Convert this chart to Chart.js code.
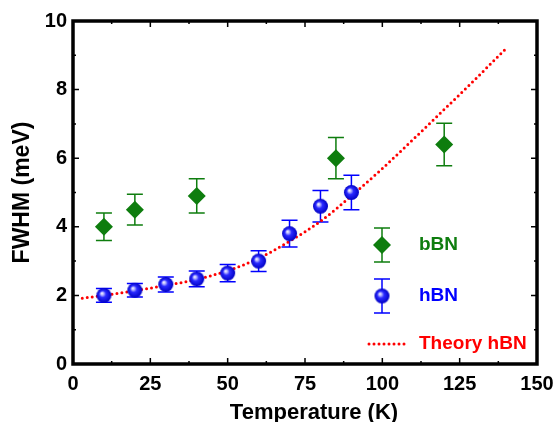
<!DOCTYPE html>
<html>
<head>
<meta charset="utf-8">
<script src="https://cdn.jsdelivr.net/npm/chart.js"></script>
<style>
  html, body { margin: 0; padding: 0; background: #fff; }
  #wrap { width: 556px; height: 422px; }
</style>
</head>
<body>
<div id="wrap"><canvas id="chart" width="556" height="422"></canvas></div>
<script>
// data
const bbnTemp = [10, 20, 40, 85, 120];
const bbnFwhm = [4.0, 4.5, 4.9, 6.0, 6.4];
const bbnErr = [0.4, 0.45, 0.5, 0.6, 0.62];

const hbnTemp = [10, 20, 30, 40, 50, 60, 70, 80, 90];
const hbnFwhm = [2.0, 2.15, 2.32, 2.48, 2.65, 3.0, 3.8, 4.6, 5.0];
const hbnErr = [0.2, 0.2, 0.22, 0.23, 0.25, 0.3, 0.39, 0.46, 0.5];

const theoryTemp = [3, 10, 20, 30, 40, 50, 60, 70, 80, 90, 100, 110, 120, 130, 140];
const theoryFwhm = [1.92, 2.0, 2.14, 2.29, 2.47, 2.72, 3.08, 3.58, 4.16, 4.9, 5.7, 6.55, 7.42, 8.3, 9.2];

const xTicks = [0, 25, 50, 75, 100, 125, 150];
const yTicks = [0, 2, 4, 6, 8, 10];

const GREEN = '#0e7d0e';
const BLUE = '#0000ff';
const RED = '#ff0000';
const FONT = "'Liberation Sans', Arial, sans-serif";

// shaded blue ball used as marker
function makeBall(r) {
    const c = document.createElement('canvas');
    const s = Math.ceil(2 * r + 2);
    c.width = s; c.height = s;
    const g = c.getContext('2d');
    const cx = s / 2, cy = s / 2;
    const grad = g.createRadialGradient(cx - r * 0.3, cy - r * 0.3, 0, cx, cy, r);
    grad.addColorStop(0, '#ffffff');
    grad.addColorStop(0.2, '#b8b8ff');
    grad.addColorStop(0.45, '#2a2aff');
    grad.addColorStop(1, '#0000c4');
    g.fillStyle = grad;
    g.beginPath();
    g.arc(cx, cy, r, 0, Math.PI * 2);
    g.fill();
    return c;
}
const ball = makeBall(7.5);

function drawDiamond(ctx, x, y, r, color) {
    ctx.fillStyle = color;
    ctx.beginPath();
    ctx.moveTo(x - r, y);
    ctx.lineTo(x, y - r);
    ctx.lineTo(x + r, y);
    ctx.lineTo(x, y + r);
    ctx.closePath();
    ctx.fill();
}

function drawErrBar(ctx, x, yTop, yBot, color) {
    ctx.strokeStyle = color;
    ctx.lineWidth = 1.5;
    ctx.beginPath();
    ctx.moveTo(x, yTop); ctx.lineTo(x, yBot);
    ctx.moveTo(x - 8, yTop); ctx.lineTo(x + 8, yTop);
    ctx.moveTo(x - 8, yBot); ctx.lineTo(x + 8, yBot);
    ctx.stroke();
}

const errorBars = {
    id: 'errorBars',
    beforeDatasetsDraw(chart) {
        const ctx = chart.ctx;
        const xs = chart.scales.x, ys = chart.scales.y;
        ctx.save();
        chart.data.datasets.forEach(ds => {
            if (!ds.errors) return;
            ds.data.forEach((p, i) => {
                const e = ds.errors[i];
                drawErrBar(ctx, xs.getPixelForValue(p.x),
                    ys.getPixelForValue(p.y + e), ys.getPixelForValue(p.y - e), ds.borderColor);
            });
        });
        ctx.restore();
    }
};

const frame = {
    id: 'frame',
    afterDraw(chart) {
        const ctx = chart.ctx;
        const a = chart.chartArea;
        const xs = chart.scales.x, ys = chart.scales.y;
        ctx.save();
        ctx.strokeStyle = '#000';
        ctx.lineWidth = 1.5;
        ctx.beginPath();
        // ticks, inward on all four sides
        for (let i = 0; i < xTicks.length; i++) {
            const v = xTicks[i];
            const px = xs.getPixelForValue(v);
            ctx.moveTo(px, a.bottom); ctx.lineTo(px, a.bottom - 6);
            ctx.moveTo(px, a.top); ctx.lineTo(px, a.top + 6);
            if (i < xTicks.length - 1) {
                const mx = xs.getPixelForValue((v + xTicks[i + 1]) / 2);
                ctx.moveTo(mx, a.bottom); ctx.lineTo(mx, a.bottom - 3);
                ctx.moveTo(mx, a.top); ctx.lineTo(mx, a.top + 3);
            }
        }
        for (let i = 0; i < yTicks.length; i++) {
            const v = yTicks[i];
            const py = ys.getPixelForValue(v);
            ctx.moveTo(a.left, py); ctx.lineTo(a.left + 6, py);
            ctx.moveTo(a.right, py); ctx.lineTo(a.right - 6, py);
            if (i < yTicks.length - 1) {
                const my = ys.getPixelForValue((v + yTicks[i + 1]) / 2);
                ctx.moveTo(a.left, my); ctx.lineTo(a.left + 3, my);
                ctx.moveTo(a.right, my); ctx.lineTo(a.right - 3, my);
            }
        }
        ctx.stroke();
        ctx.lineWidth = 3.5;
        ctx.strokeRect(a.left, a.top, a.right - a.left, a.bottom - a.top);

        // x axis title, sits a little right of centre in the original
        ctx.fillStyle = '#000';
        ctx.font = 'bold 22px ' + FONT;
        ctx.textAlign = 'center';
        ctx.textBaseline = 'alphabetic';
        ctx.fillText('Temperature (K)', (a.left + a.right) / 2 + 9, 419);
        ctx.restore();
    }
};

// legend inside the plot, lower right
const insideLegend = {
    id: 'insideLegend',
    afterDraw(chart) {
        const ctx = chart.ctx;
        const a = chart.chartArea;
        const sx = a.right - 155, tx = a.right - 118;
        ctx.save();
        ctx.font = 'bold 19px ' + FONT;
        ctx.textBaseline = 'middle';

        let y = a.bottom - 119;
        drawErrBar(ctx, sx, y - 17, y + 17, GREEN);
        drawDiamond(ctx, sx, y, 9, GREEN);
        ctx.fillStyle = GREEN;
        ctx.fillText('bBN', tx, y);

        y = a.bottom - 68;
        drawErrBar(ctx, sx, y - 17, y + 17, BLUE);
        ctx.drawImage(ball, sx - ball.width / 2, y - ball.height / 2);
        ctx.fillStyle = BLUE;
        ctx.fillText('hBN', tx, y);

        y = a.bottom - 20;
        ctx.strokeStyle = RED;
        ctx.lineWidth = 3;
        ctx.lineCap = 'round';
        ctx.setLineDash([0, 5]);
        ctx.beginPath();
        ctx.moveTo(sx - 13, y); ctx.lineTo(sx + 24, y);
        ctx.stroke();
        ctx.setLineDash([]);
        ctx.fillStyle = RED;
        ctx.fillText('Theory hBN', tx, y);
        ctx.restore();
    }
};

const toPoints = (xs, ys) => xs.map((x, i) => ({ x: x, y: ys[i] }));

new Chart(document.getElementById('chart'), {
    type: 'scatter',
    data: {
        datasets: [
            {
                label: 'Theory hBN',
                type: 'line',
                data: toPoints(theoryTemp, theoryFwhm),
                borderColor: RED,
                borderWidth: 3,
                borderDash: [0, 5],
                borderCapStyle: 'round',
                cubicInterpolationMode: 'monotone',
                pointRadius: 0,
                fill: false,
                order: 3
            },
            {
                label: 'bBN',
                data: toPoints(bbnTemp, bbnFwhm),
                errors: bbnErr,
                borderColor: GREEN,
                backgroundColor: GREEN,
                pointStyle: 'rectRot',
                pointRadius: 9,
                pointBorderWidth: 0,
                order: 2
            },
            {
                label: 'hBN',
                data: toPoints(hbnTemp, hbnFwhm),
                errors: hbnErr,
                borderColor: BLUE,
                backgroundColor: BLUE,
                pointStyle: ball,
                pointRadius: 7.5,
                order: 1
            }
        ]
    },
    options: {
        responsive: false,
        animation: false,
        clip: false,
        layout: { padding: { top: 21, right: 19, left: 0, bottom: 0 } },
        plugins: {
            legend: { display: false },
            tooltip: { enabled: false }
        },
        scales: {
            x: {
                type: 'linear',
                min: 0, max: 150,
                afterBuildTicks: s => { s.ticks = xTicks.map(v => ({ value: v })); },
                afterFit: s => { s.height = 58; s.paddingLeft = 0; s.paddingRight = 0; },
                grid: { display: false, drawTicks: false },
                border: { display: false },
                ticks: {
                    color: '#000',
                    padding: 8,
                    maxRotation: 0,
                    font: { family: FONT, size: 20, weight: 'bold' }
                },
                title: { display: false }
            },
            y: {
                type: 'linear',
                min: 0, max: 10,
                afterBuildTicks: s => { s.ticks = yTicks.map(v => ({ value: v })); },
                afterFit: s => { s.width = 73; s.paddingTop = 0; s.paddingBottom = 0; },
                grid: { display: false, drawTicks: false },
                border: { display: false },
                ticks: {
                    color: '#000',
                    padding: 6,
                    font: { family: FONT, size: 20, weight: 'bold' }
                },
                title: {
                    display: true,
                    text: 'FWHM (meV)',
                    color: '#000',
                    padding: { top: 9, bottom: 0 },
                    font: { family: FONT, size: 23, weight: 'bold' }
                }
            }
        }
    },
    plugins: [errorBars, frame, insideLegend]
});
</script>
</body>
</html>
